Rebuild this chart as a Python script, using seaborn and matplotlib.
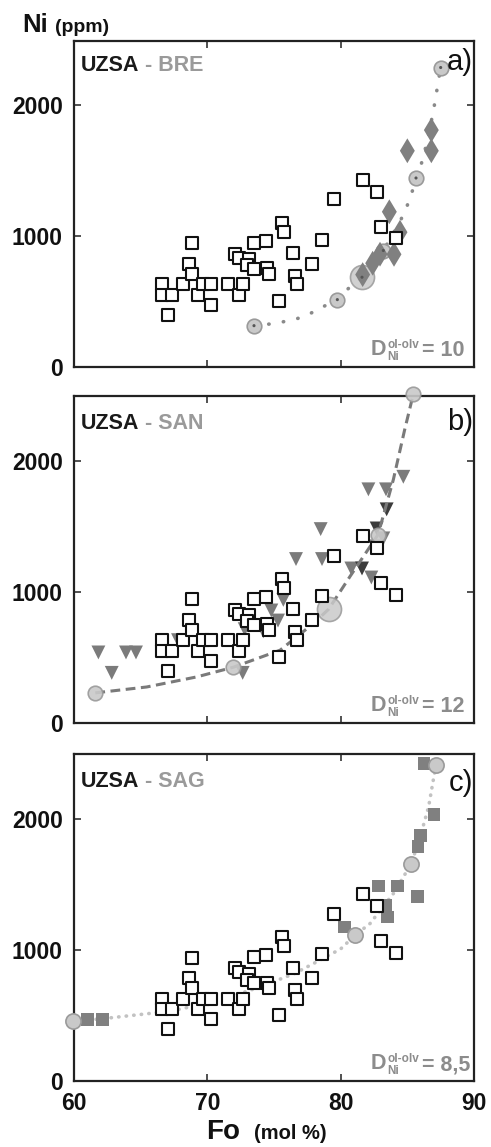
import matplotlib
matplotlib.use("Agg")
import matplotlib.pyplot as plt
import seaborn as sns

sns.set_style("ticks")
plt.rcParams['font.family'] = ['Liberation Sans', 'DejaVu Sans']

# UZSA olivines (same in every panel)
uz_fo = [66.58, 66.63, 67.37, 67.08, 68.2, 68.83, 68.63, 68.83, 69.28, 69.7, 70.25, 70.25,
         71.53, 72.08, 72.4, 72.4, 72.7, 73.15, 72.95, 73.5, 73.52, 74.4, 74.5, 74.63, 75.4,
         75.58, 75.78, 76.4, 76.58, 76.7, 77.83, 78.6, 79.5, 81.7, 82.7, 83.0, 84.13]
uz_ni = [631, 549, 549, 397, 631, 944, 789, 708, 549, 631, 631, 473,
         631, 865, 834, 549, 631, 822, 776, 949, 750, 962, 753, 708, 504,
         1102, 1030, 868, 695, 631, 784, 969, 1280, 1427, 1336, 1069, 982]

# a) BRE
bre_fo = [86.8, 85.0, 86.8, 83.65, 84.45, 84.0, 82.95, 82.4, 81.65]
bre_ni = [1810, 1652, 1652, 1186, 1030, 861, 862, 793, 706]
bre_mod_fo = [73.5, 79.75, 81.6, 83.2, 85.65, 87.5]
bre_mod_ni = [316, 515, 686, 890, 1444, 2288]
bre_mod_big = [False, False, True, False, False, False]
bre_curve_fo = [73.5, 75.2, 76.8, 77.65, 78.45, 79.75, 80.45, 81.6, 82.4, 83.2, 84.45, 84.9,
                85.45, 86.0, 86.46, 86.95, 87.5]
bre_curve_ni = [316, 334, 372, 405, 449, 515, 589, 686, 780, 890, 1112, 1207,
                1366, 1533, 1711, 1953, 2288]

# b) SAN
san_fo = [61.83, 62.83, 63.9, 64.65, 67.8, 72.65, 72.8, 74.2, 74.8, 75.3, 75.7, 76.65,
          78.5, 78.6, 80.8, 82.3, 82.08, 83.4, 84.7, 83.2, 82.6]
san_ni = [539, 383, 539, 539, 633, 383, 717, 700, 860, 783, 941, 1253,
          1482, 1253, 1181, 1112, 1786, 1786, 1882, 1411, 1350]
san_dark_fo = [81.6, 83.45, 82.7]
san_dark_ni = [1181, 1633, 1487]
san_mod_fo = [61.6, 71.95, 79.1, 82.8, 85.45]
san_mod_ni = [227, 426, 870, 1439, 2515]
san_mod_big = [False, False, True, False, False]
san_curve_fo = [61.6, 65.45, 69.2, 71.95, 75.45, 77.95, 79.1, 80.7, 82.8, 83.95, 84.8, 85.45]
san_curve_ni = [230, 275, 352, 426, 556, 760, 870, 1120, 1439, 1860, 2242, 2515]

# c) SAG
sag_fo = [61.0, 62.15, 80.27, 82.83, 83.4, 83.53, 84.28, 85.75, 85.8, 86.0, 86.25, 87.0]
sag_ni = [471, 471, 1178, 1491, 1344, 1254, 1491, 1412, 1796, 1878, 2430, 2038]
sag_mod_fo = [59.95, 81.08, 85.3, 87.15]
sag_mod_ni = [458, 1115, 1662, 2420]
sag_curve_fo = [59.95, 62, 65.7, 68, 71.45, 73.95, 76.5, 78.2, 80, 81.08, 82.2, 83.95,
                85.3, 86.0, 86.6, 87.15]
sag_curve_ni = [458, 475, 517, 550, 634, 720, 820, 911, 1010, 1115, 1204, 1433,
                1662, 1880, 2100, 2420]

panel_names = ["BRE", "SAN", "SAG"]
panel_tags = ["a)", "b)", "c)"]
panel_kd = ["10", "12", "8,5"]
panel_ymax = [2490, 2500, 2500]

fig = plt.figure(figsize=(4.91, 11.47), dpi=100)
rects = [[0.1507, 0.6800, 0.8147, 0.2842],
         [0.1507, 0.3697, 0.8147, 0.2851],
         [0.1507, 0.0575, 0.8147, 0.2851]]
axes = [fig.add_axes(r) for r in rects]

circ_face = '#c9c9c9'
circ_edge = '#9a9a9a'
kd_grey = '#8c8c8c'

for i, ax in enumerate(axes):
    # model curves + model melt points
    if i == 0:
        sns.lineplot(x=bre_curve_fo, y=bre_curve_ni, sort=False, ax=ax, color='#8a8a8a',
                     lw=2.6, linestyle=(0, (0.1, 4.0)), dash_capstyle='round', zorder=2)
        sns.scatterplot(x=bre_fo, y=bre_ni, marker='d', s=160, color='#808080',
                        edgecolor='none', ax=ax, zorder=4)
        sns.scatterplot(x=[f for f, k in zip(bre_mod_fo, bre_mod_big) if not k],
                        y=[n for n, k in zip(bre_mod_ni, bre_mod_big) if not k],
                        s=110, color=circ_face, edgecolor=circ_edge, linewidth=1.2, ax=ax, zorder=3)
        sns.scatterplot(x=[f for f, k in zip(bre_mod_fo, bre_mod_big) if k],
                        y=[n for n, k in zip(bre_mod_ni, bre_mod_big) if k],
                        s=300, color=circ_face, edgecolor=circ_edge, linewidth=1.2, ax=ax,
                        alpha=0.85, zorder=3)
        sns.scatterplot(x=bre_mod_fo, y=bre_mod_ni, s=5, color='#555555', edgecolor='none',
                        ax=ax, zorder=5)
    elif i == 1:
        sns.scatterplot(x=san_fo, y=san_ni, marker='v', s=100, color='#7b7b7b',
                        edgecolor='none', ax=ax, zorder=3)
        sns.scatterplot(x=san_dark_fo, y=san_dark_ni, marker='v', s=100, color='#3c3c3c',
                        edgecolor='none', ax=ax, zorder=3)
        sns.lineplot(x=san_curve_fo, y=san_curve_ni, sort=False, ax=ax, color='#7a7a7a',
                     lw=2.2, linestyle=(0, (3.2, 1.8)), zorder=4)
        sns.scatterplot(x=[f for f, k in zip(san_mod_fo, san_mod_big) if not k],
                        y=[n for n, k in zip(san_mod_ni, san_mod_big) if not k],
                        s=110, color=circ_face, edgecolor=circ_edge, linewidth=1.2, ax=ax,
                        alpha=0.9, zorder=5, clip_on=False)
        sns.scatterplot(x=[f for f, k in zip(san_mod_fo, san_mod_big) if k],
                        y=[n for n, k in zip(san_mod_ni, san_mod_big) if k],
                        s=300, color=circ_face, edgecolor=circ_edge, linewidth=1.2, ax=ax,
                        alpha=0.85, zorder=5)
    else:
        sns.lineplot(x=sag_curve_fo, y=sag_curve_ni, sort=False, ax=ax, color='#c2c2c2',
                     lw=2.6, linestyle=(0, (0.1, 2.0)), dash_capstyle='round', zorder=2)
        sns.scatterplot(x=sag_fo, y=sag_ni, marker='s', s=85, color='#808080',
                        edgecolor='none', ax=ax, zorder=3)
        sns.scatterplot(x=sag_mod_fo, y=sag_mod_ni, s=120, color=circ_face, edgecolor=circ_edge,
                        linewidth=1.2, ax=ax, zorder=5, clip_on=False)

    # UZSA olivines
    sns.scatterplot(x=uz_fo, y=uz_ni, marker='s', s=72, color='white', edgecolor='#111111',
                    linewidth=1.5, ax=ax, zorder=6)

    ax.set_xlim(60, 90)
    ax.set_ylim(0, panel_ymax[i])
    ax.set_xticks([60, 70, 80, 90])
    ax.set_yticks([0, 1000, 2000])
    ax.tick_params(direction='in', top=True, right=True, length=5, width=1.2,
                   color='#333333', pad=8, labelsize=16.5, labelcolor='#111111')
    for lab in ax.get_yticklabels() + ax.get_xticklabels():
        lab.set_fontweight('bold')
    if i < 2:
        ax.set_xticklabels([])
    for sp in ax.spines.values():
        sp.set_linewidth(1.6)
        sp.set_color('#222222')
    ax.set_xlabel('')
    ax.set_ylabel('')

    t = ax.text(0.017, [0.926, 0.917, 0.915][i], 'UZSA', transform=ax.transAxes,
                fontsize=15.5, fontweight='bold', color='#1a1a1a', va='center', ha='left')
    ax.annotate(' - ' + panel_names[i], xycoords=t, xy=(1, 0.5), va='center', ha='left',
                fontsize=15.5, fontweight='bold', color='#9a9a9a')
    ax.text(0.998, [0.935, 0.921, 0.911][i], panel_tags[i], transform=ax.transAxes,
            fontsize=21, ha='right', va='center', color='#111111')

    # partition coefficient label: D, super/subscripts, value
    d = ax.text(0.742, 0.036, 'D', transform=ax.transAxes, fontsize=15.5,
                fontweight='bold', color=kd_grey, ha='left', va='baseline')
    sup = ax.annotate('ol-olv', xycoords=d, xy=(1, 0), xytext=(0.6, 8.8),
                      textcoords='offset points', fontsize=8.5, fontweight='bold',
                      color=kd_grey, ha='left', va='baseline')
    ax.annotate('Ni', xycoords=d, xy=(1, 0), xytext=(0.6, 0.4),
                textcoords='offset points', fontsize=8.5, fontweight='bold',
                color=kd_grey, ha='left', va='baseline')
    ax.annotate('= ' + panel_kd[i], xycoords=sup, xy=(1, 0), xytext=(2.5, -3.7),
                textcoords='offset points', fontsize=15.5, fontweight='bold',
                color=kd_grey, ha='left', va='baseline')

fig.text(0.045, 0.972, 'Ni', fontsize=18.5, fontweight='bold', color='#111111')
fig.text(0.112, 0.972, '(ppm)', fontsize=14, fontweight='bold', color='#111111')
fig.text(0.42, 0.007, 'Fo', fontsize=20, fontweight='bold', color='#111111')
fig.text(0.518, 0.007, '(mol %)', fontsize=14.5, fontweight='bold', color='#111111')

fig.savefig('out.png', dpi=100)
